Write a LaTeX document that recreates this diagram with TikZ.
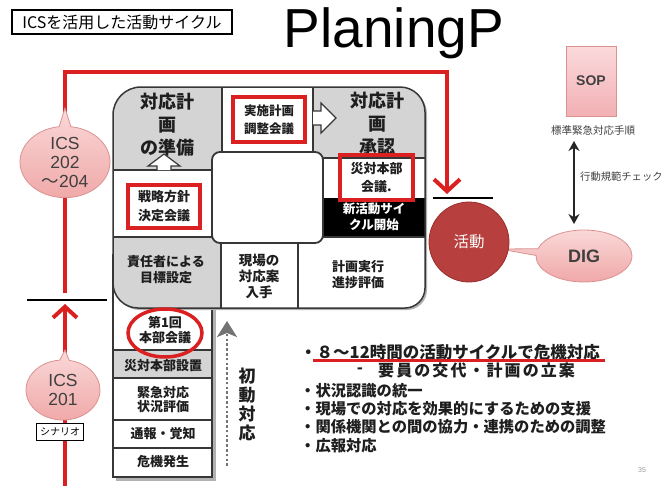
\documentclass[tikz,border=0pt]{standalone}
\usepackage{fontspec}
\setmainfont{Liberation Sans}
\newfontfamily\jp{Noto Sans CJK JP}
\usetikzlibrary{arrows.meta,shapes.callouts,shapes.geometric}
\definecolor{myred}{RGB}{218,32,32}
\definecolor{cellgray}{RGB}{212,212,212}
\definecolor{lineg}{RGB}{55,55,55}
\definecolor{katsu}{RGB}{183,64,62}
\definecolor{katsuD}{RGB}{155,45,45}
\definecolor{pinkA}{RGB}{250,216,216}
\definecolor{pinkB}{RGB}{240,168,168}
\definecolor{pinkC}{RGB}{220,145,145}
\definecolor{sopA}{RGB}{251,218,220}
\definecolor{sopB}{RGB}{242,176,180}
\definecolor{txt}{RGB}{30,30,30}
\begin{document}
\begin{tikzpicture}[x=1pt,y=-1pt,
  ringline/.style={draw=lineg,line width=1.3pt},
  redbox/.style={draw=myred,line width=3.5pt,inner sep=0pt},
  cell/.style={font=\jp\bfseries\fontsize{13}{16}\selectfont,align=center,text=txt,inner sep=0pt},
  bigcell/.style={font=\jp\bfseries\fontsize{18}{23}\selectfont,align=center,text=txt,inner sep=0pt},
  redline/.style={draw=myred,line width=4pt,line join=miter},
  bubble/.style={ellipse callout,top color=pinkA,bottom color=pinkB,draw=pinkC,line width=0.8pt,inner sep=0pt,text=black!75,font=\fontsize{17.5}{19}\selectfont,align=center},
  bul/.style={font=\jp\bfseries\fontsize{15.3}{18}\selectfont,anchor=base west,inner sep=0pt,text=txt},
  hollow/.style={draw=lineg,fill=white,line width=1.2pt,line join=miter},
  ringp/.style={insert path={(113,200) [rounded corners=28pt] -- (113,87) -- (260,87) [rounded corners=25pt] -- (425,87) -- (425,200) [rounded corners=20pt] -- (425,308) -- (260,308) [rounded corners=25pt] -- (113,308) -- cycle}}
]
\useasboundingbox (0,0) rectangle (664,485);
\fill[white] (0,0) rectangle (664,485);

% title
\node[draw=black,line width=1.5pt,minimum width=220pt,minimum height=24pt,inner sep=0pt,font=\jp\fontsize{16}{16}\selectfont] (tbox) at (122,22) {ICSを活用した活動サイクル};
\node[anchor=base,font=\fontsize{55}{55}\selectfont,inner sep=0pt] (title) at (394,47) {PlaningP};

% red cycle line
\coordinate (rbot) at (65,486);
\coordinate (ltip) at (65,304);
\coordinate (lstart) at (65,293);
\coordinate (c1) at (65,72);
\coordinate (c2) at (447,72);
\coordinate (rtip) at (447,194);
\draw[redline,-{Straight Barb[length=11pt,width=24pt]}] (rbot) -- (ltip);
\draw[redline,-{Straight Barb[length=12pt,width=26pt]}] (lstart) -- (c1) -- (c2) -- (rtip);
\coordinate (lbA) at (27,300); \coordinate (lbB) at (107,300);
\draw[black,line width=2pt] (lbA) -- (lbB);
\coordinate (rbA) at (433,198); \coordinate (rbB) at (493,198);
\draw[black,line width=2pt] (rbA) -- (rbB);

% ICS bubbles
\node[bubble,minimum width=90pt,minimum height=66pt,callout absolute pointer={(65,108)}] (ics2) at (65,162) {ICS\\202\\{\jp ～}204};
\node[bubble,minimum width=74pt,minimum height=60pt,callout absolute pointer={(65,350)}] (ics1) at (63,390) {ICS\\201};
\node[draw=black,fill=white,line width=1.2pt,minimum width=47pt,minimum height=17pt,inner sep=0pt,font=\jp\fontsize{10}{10}\selectfont] (scen) at (60,432) {シナリオ};

% initial response stack
\fill[black!30] (116,258) rectangle (216,481);
\draw[ringline,fill=white] (113,255) rectangle (212,477);
\fill[cellgray] (113,350) rectangle (212,378);
\draw[ringline] (113,350) -- (212,350) (113,378) -- (212,378) (113,420) -- (212,420) (113,448) -- (212,448);
\draw[ringline] (113,255) rectangle (212,477);

% ring
\fill[black!30,xshift=2pt,yshift=-2pt,ringp];
\fill[white,ringp];
\begin{scope}
\clip[ringp];
\fill[cellgray] (113,87) rectangle (222,170);
\fill[cellgray] (313,87) rectangle (425,158);
\fill[cellgray] (113,237) rectangle (221,308);
\fill[black] (313,198) rectangle (425,237);
\end{scope}
\draw[ringline] (222,87) -- (222,152) (313,87) -- (313,152) (113,170) -- (212,170) (113,237) -- (212,237)
  (323,158) -- (425,158) (323,237) -- (425,237) (221,243) -- (221,308) (298,243) -- (298,308);
\draw[ringline,line width=1.5pt,ringp];
\draw[lineg,fill=white,rounded corners=8pt,line width=1.8pt] (212,152) rectangle (323,243);

% ring texts
\node[bigcell] (prep) at (167,125) {対応計\\画\\の準備};
\node[cell,redbox,minimum width=72pt,minimum height=45pt,font=\jp\bfseries\fontsize{12.5}{18}\selectfont] (impl) at (269,119.5) {実施計画\\調整会議};
\node[bigcell] (appr) at (377,124) {対応計\\画\\承認};
\node[cell,redbox,minimum width=73pt,minimum height=45pt,font=\jp\bfseries\fontsize{13}{18}\selectfont] (saitai) at (376.5,177.5) {災対本部\\会議.};
\node[cell,text=white,font=\jp\bfseries\fontsize{12.5}{16}\selectfont] (newc) at (374,217) {新活動サイ\\クル開始};
\node[cell,redbox,minimum width=72pt,minimum height=43pt,font=\jp\bfseries\fontsize{13}{19}\selectfont] (senr) at (164,206.5) {戦略方針\\決定会議};
\node[cell] (seki) at (166,270) {責任者による\\目標設定};
\node[cell,font=\jp\bfseries\fontsize{13.5}{16}\selectfont] (genba) at (259,276) {現場の\\対応案\\入手};
\node[cell] (keik) at (358,274.5) {計画実行\\進捗評価};

% hollow arrows
\draw[hollow] (157,170) -- (157,166) -- (148,166) -- (164,154) -- (180,166) -- (171,166) -- (171,170);
\draw[hollow] (313,111) -- (321,111) -- (321,103) -- (336,118) -- (321,133) -- (321,125) -- (313,125);

% stack texts
\node[cell,font=\jp\bfseries\fontsize{13}{15}\selectfont] (dai1) at (165,330) {第1回\\本部会議};
\node[cell] (setc) at (163,366) {災対本部設置};
\node[cell,font=\jp\bfseries\fontsize{13}{14}\selectfont] (kink) at (163,400) {緊急対応\\状況評価};
\node[cell] (tsuh) at (163,434) {通報・覚知};
\node[cell] (kiki) at (163,462) {危機発生};
\node[draw=myred,line width=3.5pt,ellipse,minimum width=74pt,minimum height=48pt,inner sep=0pt] (circ1) at (165,333) {};

% initial response arrow
\coordinate (dA) at (227,466); \coordinate (dB) at (227,321);
\draw[draw=black!55,line width=2.6pt,dash pattern=on 2.6pt off 2.2pt,-{Stealth[length=16pt,width=20pt,inset=4pt]}] (dA) -- (dB);
\node[font=\jp\bfseries\fontsize{17}{19}\selectfont,align=center,text=txt,inner sep=0pt] (shodo) at (247,405) {初\\動\\対\\応};

% right side
\node[bubble,minimum width=96pt,minimum height=52pt,callout absolute pointer={(500,249)},font=\bfseries\fontsize{18}{18}\selectfont] (dig) at (584,256) {DIG};
\node[circle,fill=katsu,draw=katsuD,line width=0.8pt,minimum size=80pt,inner sep=0pt,text=white,font=\jp\fontsize{15.5}{16}\selectfont] (act) at (469,242) {活動};
\node[draw=pinkC,top color=sopA,bottom color=sopB,line width=0.8pt,minimum width=50pt,minimum height=70pt,inner sep=0pt,font=\bfseries\fontsize{14}{14}\selectfont,text=black!75] (sop) at (591,81) {SOP};
\node[font=\jp\fontsize{10.5}{12}\selectfont,text=black!75,inner sep=0pt] (sopl) at (593,130) {標準緊急対応手順};
\coordinate (aA) at (574,141); \coordinate (aB) at (574,224);
\draw[black!85,line width=2.5pt,{Stealth[length=10pt,width=11pt]}-{Stealth[length=10pt,width=11pt]}] (aA) -- (aB);
\node[anchor=west,font=\jp\fontsize{10.3}{12}\selectfont,text=black!75,inner sep=0pt] (chk) at (580,177) {行動規範チェック};

% bullets
\node[bul,font=\jp\bfseries\fontsize{16.5}{18}\selectfont] (b1) at (300,358) {・８～12時間の活動サイクルで危機対応};
\node[cell,font=\jp\bfseries\fontsize{16}{16}\selectfont] (b2d) at (360,371) {-};
\node[bul,font=\jp\bfseries\fontsize{16}{18}\selectfont\addfontfeature{LetterSpace=13}] (b2) at (378,376) {要員の交代・計画の立案};
\node[bul] (b3) at (300,396) {・状況認識の統一};
\node[bul] (b4) at (300,414) {・現場での対応を効果的にするための支援};
\node[bul] (b5) at (300,432) {・関係機関との間の協力・連携のための調整};
\node[bul] (b6) at (300,451) {・広報対応};
\coordinate (uA) at (313,360); \coordinate (uB) at (605,360);
\draw[myred,line width=3pt] (uA) -- (uB);
\node[font=\fontsize{7}{7}\selectfont,text=black!40,inner sep=0pt] (pg) at (642,470) {35};
\end{tikzpicture}
\end{document}
